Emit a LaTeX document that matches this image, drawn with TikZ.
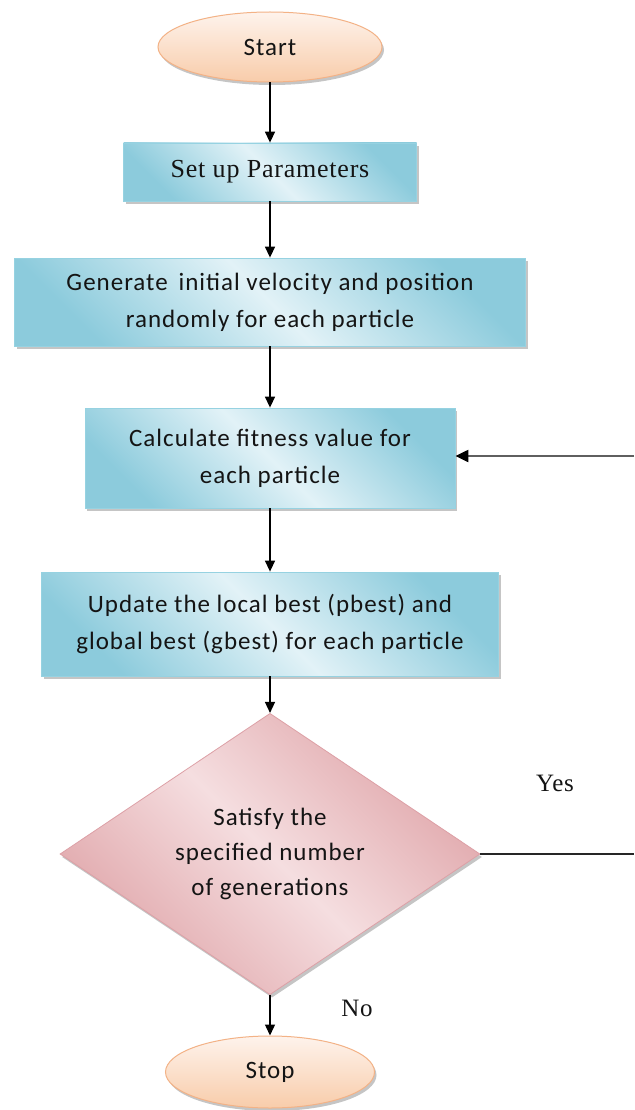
\documentclass[tikz,border=0pt]{standalone}
\usepackage{fontspec}
\setmainfont{Carlito}
\newfontfamily\boxfont[LetterSpace=4]{Carlito}
\newfontfamily\serifbox[LetterSpace=3]{Liberation Serif}
\usetikzlibrary{shapes.geometric,arrows.meta,shadows}
\definecolor{boxdark}{RGB}{140,203,220}
\definecolor{boxlight}{RGB}{226,242,247}
\definecolor{boxborder}{RGB}{150,210,225}
\definecolor{elltop}{RGB}{254,243,236}
\definecolor{ellbot}{RGB}{248,204,170}
\definecolor{ellborder}{RGB}{243,178,134}
\definecolor{diadark}{RGB}{224,166,170}
\definecolor{dialight}{RGB}{245,222,224}
\definecolor{diaborder}{RGB}{221,160,166}
\definecolor{txt}{RGB}{20,20,20}
\definecolor{fbgray}{RGB}{95,95,95}
\begin{document}
\begin{tikzpicture}[x=1pt,y=-1pt,
  shadowed/.style={drop shadow={shadow xshift=2pt,shadow yshift=-3pt,fill=black!45,opacity=0.5}},
  procbox/.style={rectangle, draw=boxborder, line width=0.8pt, shadowed,
    top color=boxdark, bottom color=boxdark, middle color=boxlight, shading angle=-45,
    inner sep=0pt, align=center, text=txt,
    font=\boxfont\fontsize{25}{37}\selectfont},
  termbox/.style={ellipse, draw=ellborder, line width=1pt, shadowed,
    top color=elltop, bottom color=ellbot, inner sep=0pt, text=txt,
    font=\boxfont\fontsize{25}{37}\selectfont},
  decbox/.style={diamond, draw=diaborder, line width=0.8pt, shadowed,
    top color=diadark, bottom color=diadark, middle color=dialight, shading angle=-45,
    inner sep=0pt, align=center, text=txt,
    font=\boxfont\fontsize{25}{35}\selectfont},
  lbl/.style={text=txt, font=\serifbox\fontsize{25}{28}\selectfont, inner sep=0pt},
  arr/.style={draw=black, line width=1.4pt, -{Triangle[length=11pt,width=10pt]}},
  plainline/.style={draw=black!85, line width=1.6pt},
  fbarr/.style={draw=fbgray, line width=2.2pt, -{Triangle[length=13pt,width=12pt,color=black]}}
]
\fill[white] (0,0) rectangle (634,1110);
\useasboundingbox (0,0) rectangle (634,1110);

\node[termbox, minimum width=224pt, minimum height=70pt] (start) at (270,47) {Start};
\node[procbox, minimum width=293pt, minimum height=58pt, font=\serifbox\fontsize{26}{30}\selectfont] (setup) at (270,172) {Set up Parameters};
\node[procbox, minimum width=511pt, minimum height=88pt] (gen) at (270,302) {Generate \,initial velocity and position\\randomly for each particle};
\node[procbox, minimum width=370pt, minimum height=100pt] (calc) at (270,458) {Calculate fitness value for\\each particle};
\node[procbox, minimum width=457pt, minimum height=104pt] (upd) at (270,624) {Update the local best (pbest) and\\global best (gbest) for each particle};
\node[decbox, minimum width=420pt, minimum height=248pt] (dia) at (270,854) {Satisfy the\\specified number\\of generations};
\node[termbox, minimum width=209pt, minimum height=72pt] (stop) at (270,1072) {Stop};

\node[lbl] (yes) at (555,783) {Yes};
\node[lbl] (no) at (357,1008) {No};

\draw[arr] (start) -- (setup);
\draw[arr] (setup) -- (gen);
\draw[arr] (gen) -- (calc);
\draw[arr] (calc) -- (upd);
\draw[arr] (upd) -- (dia);
\draw[arr] (dia) -- (stop);

\coordinate (yesend) at (634,854);
\draw[plainline] (dia.east) -- (yesend);
\coordinate (fbstart) at (634,456);
\draw[fbarr] (fbstart) -- (calc.east |- fbstart);
\end{tikzpicture}
\end{document}
